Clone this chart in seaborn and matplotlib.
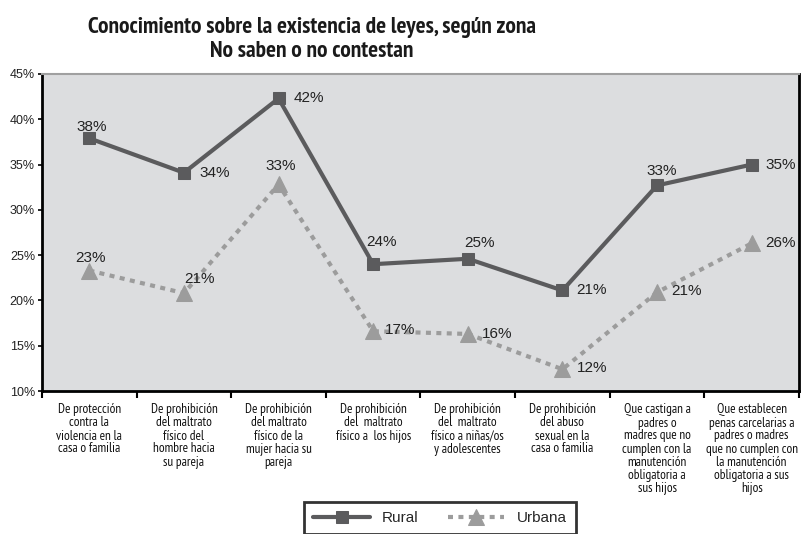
import numpy as np
import pandas as pd
import matplotlib
matplotlib.use("Agg")
import matplotlib.pyplot as plt
from matplotlib import font_manager
from matplotlib.ticker import FixedLocator, FuncFormatter
import seaborn as sns

# Survey results: share who do not know / did not answer, per law and zone
categories = [
    "De protección\ncontra la\nviolencia en la\ncasa o familia",
    "De prohibición\ndel maltrato\nfísico del\nhombre hacia\nsu pareja",
    "De prohibición\ndel maltrato\nfísico de la\nmujer hacia su\npareja",
    "De prohibición\ndel  maltrato\nfísico a  los hijos",
    "De prohibición\ndel  maltrato\nfísico a niñas/os\ny adolescentes",
    "De prohibición\ndel abuso\nsexual en la\ncasa o familia",
    "Que castigan a\npadres o\nmadres que no\ncumplen con la\nmanutención\nobligatoria a\nsus hijos",
    "Que establecen\npenas carcelarias a\npadres o madres\nque no cumplen con\nla manutención\nobligatoria a sus\nhijos",
]
rural = [37.9, 34.1, 42.3, 24.0, 24.6, 21.1, 32.7, 35.0]
urbana = [23.3, 20.8, 32.8, 16.6, 16.3, 12.4, 20.9, 26.3]
zones = ["Rural", "Urbana"]
y_ticks = [10, 15, 20, 25, 30, 35, 40, 45]

# pick a condensed sans face for the category labels and title
installed = {f.name for f in font_manager.fontManager.ttflist}
narrow = "Liberation Sans"
for cand in ["Liberation Sans Narrow", "Arial Narrow", "PT Sans Narrow",
             "Roboto Condensed", "Archivo Narrow", "Asap Condensed"]:
    if cand in installed:
        narrow = cand
        break

sns.set_theme(style="white")
plt.rcParams["font.family"] = ["Liberation Sans", "DejaVu Sans"]

pos = np.arange(len(categories))
df = pd.DataFrame({
    "pos": np.concatenate([pos, pos]),
    "pct": rural + urbana,
    "zona": [zones[0]] * len(rural) + [zones[1]] * len(urbana),
})

fig = plt.figure(figsize=(8.12, 5.34), dpi=100)
ax = fig.add_axes([42 / 812, 1 - 391 / 534, (799 - 42) / 812, (391 - 74) / 534])
ax.set_facecolor("#dcdddf")

styles = {
    "Rural": dict(color="#5b5b5d", marker="s", markersize=9, linewidth=3.0, dashes=None),
    "Urbana": dict(color="#9c9c9c", marker="^", markersize=11, linewidth=3.0, dashes=(1.2, 1.3)),
}
for z in zones:
    st = styles[z]
    kw = dict(color=st["color"], marker=st["marker"], markersize=st["markersize"],
              markeredgecolor=st["color"], linewidth=st["linewidth"], label=z)
    sns.lineplot(data=df[df["zona"] == z], x="pos", y="pct", ax=ax, legend=False, **kw)
    if st["dashes"] is not None:
        ax.lines[-1].set_dashes(st["dashes"])
if ax.get_legend() is not None:
    ax.get_legend().remove()

# value labels (offsets in pixels, alignment)
offsets = {
    "Rural": [(2, 11, "center"), (16, 0, "left"), (15, 0, "left"), (8, 22, "center"),
              (12, 16, "center"), (14, 0, "left"), (5, 14, "center"), (14, 0, "left")],
    "Urbana": [(1, 13, "center"), (16, 14, "center"), (2, 18, "center"), (12, 1, "left"),
               (14, 0, "left"), (14, 1, "left"), (14, 1, "left"), (14, 0, "left")],
}
for z, vals in zip(zones, [rural, urbana]):
    for i, v in enumerate(vals):
        dx, dy, ha = offsets[z][i]
        ax.annotate(f"{v:.0f}%", (pos[i], v), xytext=(dx, dy), textcoords="offset pixels",
                    ha=ha, va="center", fontsize=11, color="#222222")

ax.set_xlim(-0.5, len(categories) - 0.5)
ax.set_ylim(y_ticks[0], y_ticks[-1])
ax.set_xlabel("")
ax.set_ylabel("")

ax.yaxis.set_major_locator(FixedLocator(y_ticks))
ax.yaxis.set_major_formatter(FuncFormatter(lambda v, p: f"{v:.0f}%"))
ax.tick_params(axis="y", which="major", length=3, width=1.2, color="black",
               labelsize=9, labelcolor="#222222", pad=2, left=True)

ax.set_xticks(pos)
ax.set_xticklabels(categories, fontsize=9.5, family=[narrow, "DejaVu Sans"],
                   color="#111111", linespacing=1.0)
ax.tick_params(axis="x", which="major", length=0, pad=9)
ax.xaxis.set_minor_locator(FixedLocator(np.arange(len(categories) + 1) - 0.5))
ax.tick_params(axis="x", which="minor", length=5, width=1.5, color="black", bottom=True)

for side in ["left", "bottom", "right"]:
    ax.spines[side].set_color("black")
    ax.spines[side].set_linewidth(2)
ax.spines["top"].set_color("#a0a0a0")
ax.spines["top"].set_linewidth(1.5)

title_kw = dict(ha="center", va="baseline", fontsize=16.8, fontweight="bold",
                family=[narrow, "DejaVu Sans"], color="#1a1a1a")
fig.text(312 / 812, 1 - 33 / 534, "Conocimiento sobre la existencia de leyes, según zona", **title_kw)
fig.text(312 / 812, 1 - 57 / 534, "No saben o no contestan", **title_kw)

handles, labels = ax.get_legend_handles_labels()
leg = fig.legend(handles, labels, loc="upper center", bbox_to_anchor=(440 / 812, 1 - 502 / 534),
                 ncol=2, fontsize=11, frameon=True, fancybox=False, handlelength=3.7,
                 columnspacing=1.9, borderpad=0.6, borderaxespad=0, edgecolor="black")
leg.get_frame().set_linewidth(2)

fig.savefig("out.png", dpi=100)
